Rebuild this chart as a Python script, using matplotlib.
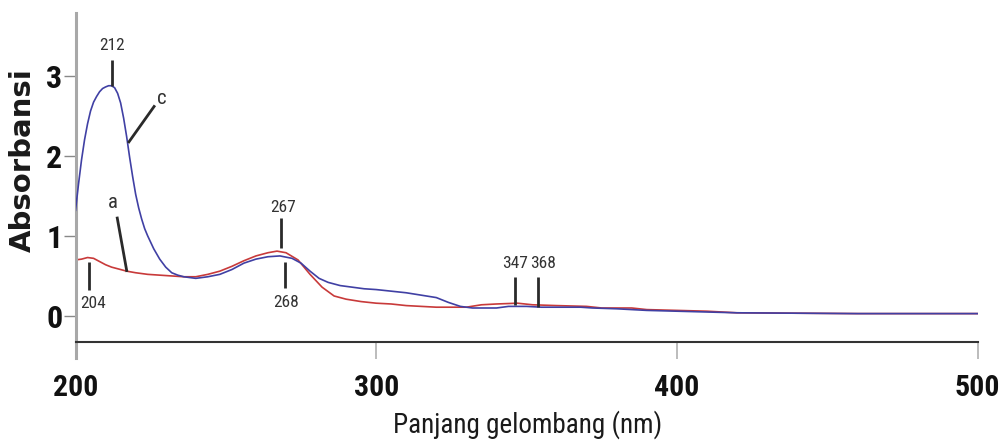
import matplotlib
matplotlib.use("Agg")
import matplotlib.pyplot as plt

# UV-Vis spectra: wavelength (nm) and absorbance
wl_c = [200, 201, 202, 203, 204, 205, 206, 207, 208, 209, 210, 211, 212, 213,
        214, 215, 216, 217, 218, 219, 220, 221, 222, 223, 224, 226, 228, 230,
        232, 234, 236, 238, 240, 244, 248, 252, 256, 260, 264, 268, 272, 275,
        278, 281, 284, 288, 292, 296, 300, 305, 310, 315, 320, 324, 328, 332,
        336, 340, 344, 350, 355, 360, 368, 372, 380, 390, 400, 410, 420, 440,
        460, 480, 500]
abs_c = [1.32, 1.65, 1.95, 2.20, 2.40, 2.56, 2.67, 2.74, 2.80, 2.84, 2.86,
         2.875, 2.875, 2.85, 2.78, 2.66, 2.47, 2.24, 1.98, 1.74, 1.52, 1.35,
         1.21, 1.09, 1.00, 0.84, 0.71, 0.61, 0.54, 0.51, 0.49, 0.48, 0.47,
         0.49, 0.52, 0.58, 0.66, 0.71, 0.74, 0.75, 0.72, 0.66, 0.56, 0.47,
         0.42, 0.38, 0.36, 0.34, 0.33, 0.31, 0.29, 0.26, 0.23, 0.17, 0.12,
         0.10, 0.10, 0.10, 0.12, 0.12, 0.11, 0.11, 0.11, 0.10, 0.09, 0.07,
         0.06, 0.05, 0.04, 0.035, 0.03, 0.03, 0.03]

wl_a = [200, 202, 204, 206, 208, 210, 212, 214, 217, 220, 224, 228, 232, 236,
        240, 244, 248, 252, 256, 260, 264, 267, 270, 274, 278, 282, 286, 290,
        295, 300, 305, 310, 315, 320, 325, 330, 335, 340, 347, 352, 360, 370,
        375, 385, 390, 400, 410, 420, 440, 460, 480, 500]
abs_a = [0.70, 0.71, 0.73, 0.72, 0.68, 0.64, 0.61, 0.59, 0.56, 0.54, 0.52,
         0.51, 0.50, 0.49, 0.49, 0.52, 0.56, 0.62, 0.69, 0.75, 0.79, 0.81,
         0.79, 0.70, 0.52, 0.36, 0.25, 0.21, 0.18, 0.16, 0.15, 0.13, 0.12,
         0.11, 0.11, 0.11, 0.14, 0.15, 0.16, 0.14, 0.13, 0.12, 0.10, 0.10,
         0.08, 0.07, 0.06, 0.04, 0.035, 0.03, 0.03, 0.03]

x_ticks = [200, 300, 400, 500]
y_ticks = [0, 1, 2, 3]

# peak markers: label, x, line bottom, line top, text position
peak_labels = ["212", "204", "267", "268", "347", "368"]
peak_x = [212.0, 204.5, 268.2, 269.7, 346.1, 353.8]
peak_text_x = [212.0, 205.8, 269.0, 270.0, 346.2, 355.4]
peak_line_y0 = [2.87, 0.32, 0.85, 0.35, 0.14, 0.11]
peak_line_y1 = [3.20, 0.67, 1.22, 0.67, 0.49, 0.49]
peak_text_y = [3.38, 0.15, 1.36, 0.17, 0.65, 0.65]

# curve labels with leader lines
curve_labels = ["c", "a"]
curve_text_xy = [(228.6, 2.72), (212.5, 1.42)]
curve_lead = [((226.4, 2.63), (217.5, 2.16)), ((213.8, 1.24), (217.1, 0.55))]

NARROW = ["Liberation Sans Narrow", "Roboto Condensed", "DejaVu Sans"]


def narrow(t, size, weight="normal"):
    t.set_family(NARROW)
    t.set_stretch("condensed")
    t.set_fontsize(size)
    t.set_fontweight(weight)


fig = plt.figure(figsize=(10.03, 4.45), dpi=100)
ax = fig.add_axes([0.0753, 0.2321, 0.8993, 0.7387])

ax.plot(wl_c, abs_c, color="#4040a4", lw=1.2, zorder=3)
ax.plot(wl_a, abs_a, color="#c83a3a", lw=1.2, zorder=2)

ax.set_xlim(200, 500)
ax.set_ylim(-0.321, 3.783)

for s in ("top", "right"):
    ax.spines[s].set_visible(False)
ax.spines["left"].set_color("#a8a8a8")
ax.spines["left"].set_linewidth(2.2)
ax.spines["left"].set_bounds(-0.524, 3.783)
ax.spines["bottom"].set_color("#333333")
ax.spines["bottom"].set_linewidth(1.5)

ax.set_xticks(x_ticks)
ax.set_xticklabels([str(v) for v in x_ticks])
ax.set_yticks(y_ticks)
ax.set_yticklabels([str(v) for v in y_ticks])
ax.tick_params(axis="x", direction="out", length=12, width=1.2,
               color="#b0b0b0", pad=11)
ax.tick_params(axis="y", direction="out", length=8.5, width=1.0,
               color="#888888", pad=1)
for lab in ax.get_xticklabels():
    narrow(lab, 21.5, "bold")
    lab.set_color("#111111")
for lab in ax.get_yticklabels():
    narrow(lab, 23, "bold")
    lab.set_color("#111111")

for lab, x, xt, y0, y1, yt in zip(peak_labels, peak_x, peak_text_x,
                                  peak_line_y0, peak_line_y1, peak_text_y):
    ax.plot([x, x], [y0, y1], color="#2a2a2a", lw=2.0, zorder=4,
            solid_capstyle="butt")
    t = ax.text(xt, yt, lab, ha="center", va="center", color="#333333",
                zorder=5)
    narrow(t, 12.5)

for lab, (tx, ty), (p0, p1) in zip(curve_labels, curve_text_xy, curve_lead):
    ax.plot([p0[0], p1[0]], [p0[1], p1[1]], color="#2a2a2a", lw=2.0,
            zorder=4, solid_capstyle="butt")
    t = ax.text(tx, ty, lab, ha="center", va="center", color="#333333",
                zorder=5)
    narrow(t, 15)

xl = fig.text(528 / 1003, 12 / 445, "Panjang gelombang (nm)", ha="center",
              va="baseline", color="#1a1a1a")
narrow(xl, 19.5)
fig.text(22.5 / 1003, 1 - 160.5 / 445, "Absorbansi", rotation=90,
         ha="center", va="center", fontsize=21, fontweight="bold",
         family=["DejaVu Sans"], color="#1a1a1a")

fig.savefig("out.png", dpi=100)
